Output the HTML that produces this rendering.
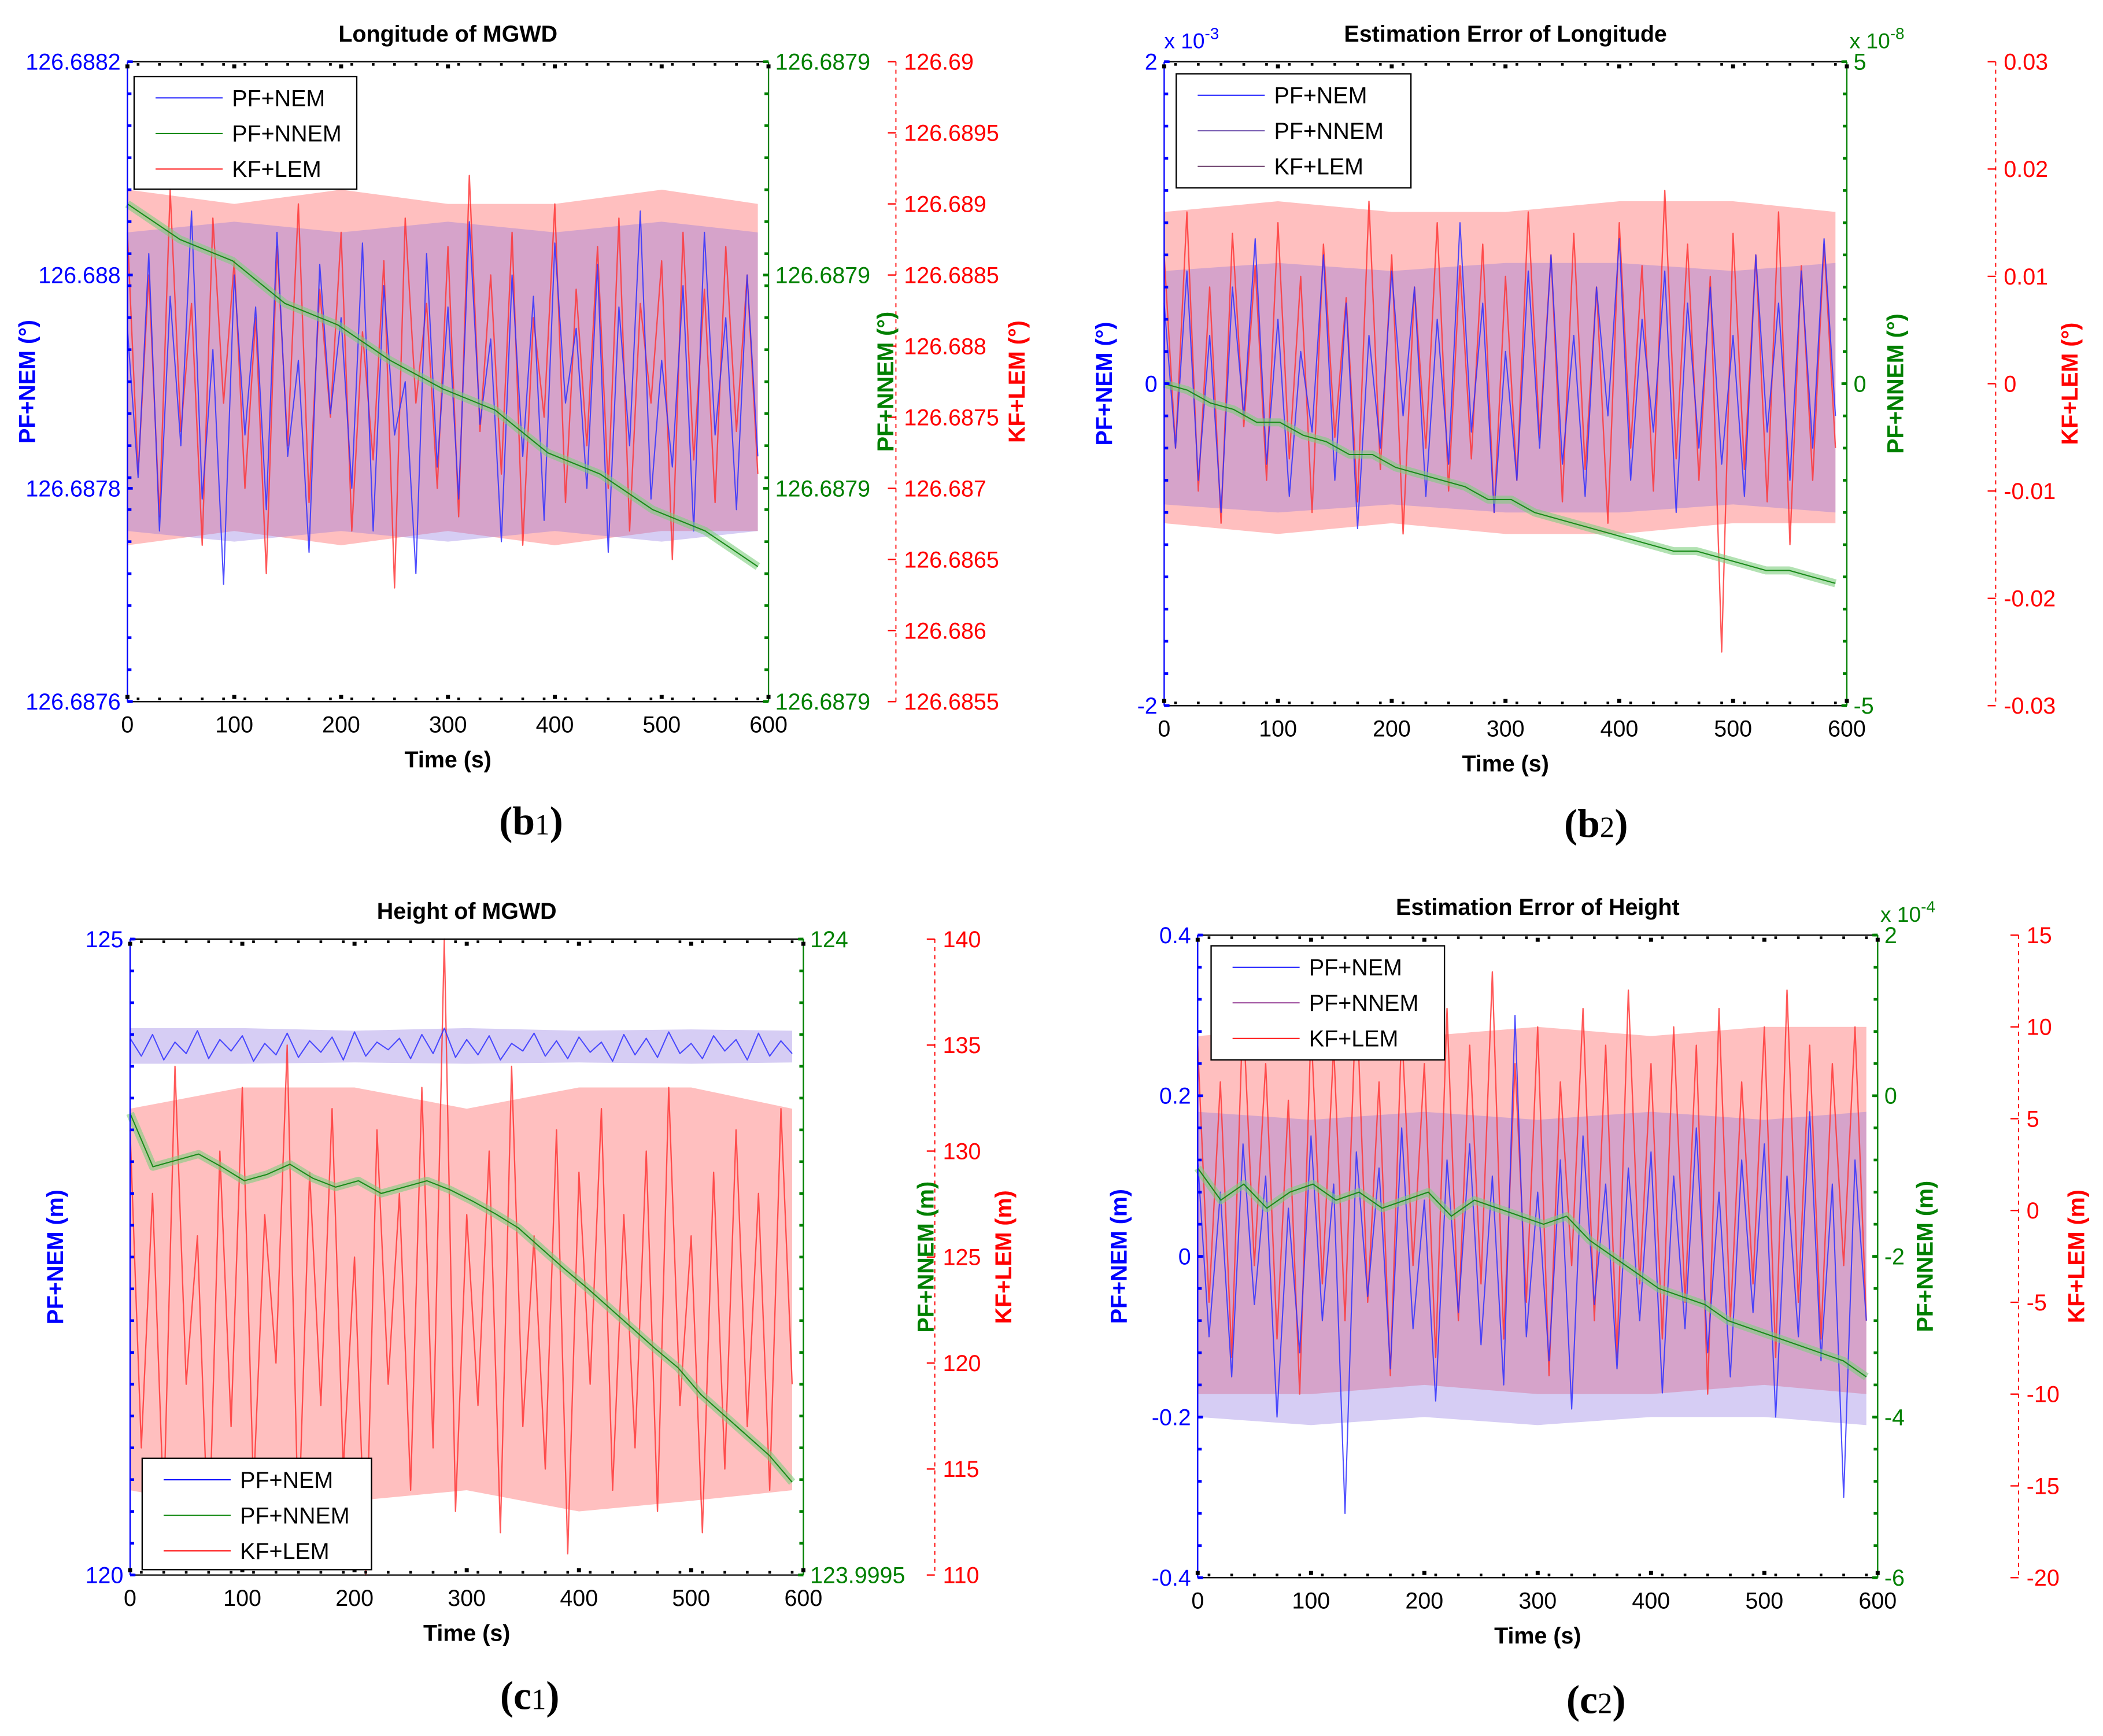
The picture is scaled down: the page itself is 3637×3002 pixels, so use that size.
<!DOCTYPE html>
<html><head><meta charset="utf-8"><style>
html,body{margin:0;padding:0;background:#fff;}
svg{display:block;font-family:"Liberation Sans",Arial,sans-serif;}
</style></head><body>
<svg id="fig" xmlns="http://www.w3.org/2000/svg" width="3637" height="3002" viewBox="0 0 1568 1294" preserveAspectRatio="none"></svg>
<script>
// ===== Data =====
const timeMax = 590;
const bandT = [0,100,200,300,400,500,590];
// (b1) Longitude of MGWD
const b1Nem = [126.68795,126.68781,126.68802,126.68776,126.68798,126.68784,126.68806,126.68779,126.68793,126.68771,126.68800,126.68785,126.68797,126.68778,126.68804,126.68783,126.68792,126.68774,126.68801,126.68787,126.68796,126.68780,126.68803,126.68776,126.68799,126.68785,126.68790,126.68772,126.68802,126.68782,126.68797,126.68779,126.68805,126.68786,126.68794,126.68775,126.68800,126.68783,126.68798,126.68777,126.68803,126.68788,126.68795,126.68780,126.68801,126.68774,126.68797,126.68784,126.68806,126.68779,126.68792,126.68782,126.68799,126.68776,126.68804,126.68785,126.68796,126.68778,126.68800,126.68783];
const b1Lem = [126.6888,126.6871,126.6885,126.6868,126.6891,126.6874,126.6883,126.6866,126.6889,126.6876,126.6886,126.6870,126.6882,126.6864,126.6887,126.6873,126.6890,126.6869,126.6884,126.6875,126.6888,126.6867,126.6881,126.6872,126.6886,126.6863,126.6889,126.6876,126.6883,126.6870,126.6887,126.6868,126.6892,126.6874,126.6885,126.6871,126.6888,126.6866,126.6882,126.6875,126.6890,126.6869,126.6884,126.6873,126.6887,126.6870,126.6889,126.6867,126.6883,126.6876,126.6886,126.6865,126.6888,126.6872,126.6884,126.6869,126.6887,126.6874,126.6885,126.6871];
const b1Nnem = [126.687930,126.687925,126.687922,126.687916,126.687913,126.687908,126.687904,126.687901,126.687895,126.687892,126.687887,126.687884,126.687879];
const b1LemLo = [126.6866,126.6867,126.6866,126.6867,126.6866,126.6867,126.6867];
const b1LemHi = [126.6891,126.6890,126.6891,126.6890,126.6890,126.6891,126.6890];
const b1NemLo = [126.68776,126.68775,126.68776,126.68775,126.68776,126.68775,126.68776];
const b1NemHi = [126.68804,126.68805,126.68804,126.68805,126.68804,126.68805,126.68804];
// (b2) Estimation Error of Longitude
const b2Nem = [0.5,-0.4,0.7,-0.6,0.3,-0.8,0.6,-0.2,0.9,-0.5,0.4,-0.7,0.2,-0.3,0.8,-0.6,0.5,-0.9,0.3,-0.4,0.7,-0.2,0.6,-0.7,0.4,-0.5,1.0,-0.3,0.5,-0.8,0.2,-0.6,0.7,-0.4,0.8,-0.5,0.3,-0.7,0.6,-0.2,0.9,-0.6,0.4,-0.3,0.7,-0.8,0.5,-0.4,0.6,-0.5,0.3,-0.7,0.8,-0.3,0.5,-0.6,0.7,-0.4,0.9,-0.2];
const b2Lem = [0.012,-0.006,0.016,-0.010,0.009,-0.013,0.014,-0.004,0.011,-0.009,0.015,-0.007,0.010,-0.012,0.013,-0.005,0.008,-0.011,0.017,-0.008,0.012,-0.014,0.009,-0.006,0.015,-0.010,0.011,-0.007,0.013,-0.012,0.010,-0.009,0.016,-0.005,0.012,-0.011,0.014,-0.008,0.009,-0.013,0.015,-0.006,0.011,-0.010,0.018,-0.007,0.013,-0.009,0.010,-0.025,0.014,-0.008,0.012,-0.011,0.016,-0.015,0.011,-0.009,0.013,-0.006];
const b2Nnem = [0.0,-0.1,-0.3,-0.4,-0.6,-0.6,-0.8,-0.9,-1.1,-1.1,-1.3,-1.4,-1.5,-1.6,-1.8,-1.8,-2.0,-2.1,-2.2,-2.3,-2.4,-2.5,-2.6,-2.6,-2.7,-2.8,-2.9,-2.9,-3.0,-3.1];
const b2LemLo = [-0.013,-0.014,-0.013,-0.014,-0.014,-0.013,-0.013];
const b2LemHi = [0.016,0.017,0.016,0.016,0.017,0.017,0.016];
const b2NemLo = [-0.75,-0.8,-0.75,-0.8,-0.8,-0.75,-0.8];
const b2NemHi = [0.7,0.75,0.7,0.75,0.75,0.7,0.75];
// (c1) Height of MGWD
const c1Nem = [124.22,124.08,124.25,124.05,124.19,124.10,124.28,124.06,124.21,124.12,124.24,124.04,124.18,124.09,124.26,124.07,124.20,124.11,124.23,124.05,124.27,124.08,124.19,124.13,124.22,124.06,124.25,124.10,124.30,124.07,124.21,124.09,124.24,124.05,124.18,124.12,124.26,124.08,124.20,124.06,124.23,124.11,124.19,124.04,124.25,124.09,124.22,124.07,124.27,124.10,124.18,124.06,124.24,124.12,124.21,124.05,124.26,124.08,124.20,124.10];
const c1Lem = [131,116,128,113,134,119,126,111,130,117,133,114,127,120,135,112,129,118,132,115,125,110,131,119,128,114,133,116,140,113,127,118,130,112,134,117,126,115,131,111,129,119,132,114,127,116,130,113,133,118,126,112,129,115,131,117,128,114,132,119];
const c1Nnem = [123.999863,123.999821,123.999826,123.999831,123.999821,123.999810,123.999815,123.999823,123.999812,123.999805,123.999810,123.999800,123.999805,123.999810,123.999803,123.999794,123.999784,123.999773,123.999757,123.999741,123.999726,123.999710,123.999694,123.999678,123.999663,123.999642,123.999626,123.999610,123.999594,123.999573];
const c1LemLo = [114,113,113.5,114,113,113.5,114];
const c1LemHi = [132,133,133,132,133,133,132];
const c1NemLo = [124.02,124.02,124.03,124.02,124.03,124.02,124.03];
const c1NemHi = [124.3,124.3,124.28,124.3,124.28,124.29,124.28];
// (c2) Estimation Error of Height
const c2Nem = [0.12,-0.10,0.08,-0.15,0.14,-0.06,0.10,-0.20,0.06,-0.12,0.15,-0.08,0.09,-0.32,0.13,-0.05,0.11,-0.14,0.16,-0.09,0.07,-0.18,0.12,-0.07,0.14,-0.11,0.10,-0.16,0.30,-0.10,0.08,-0.13,0.12,-0.19,0.15,-0.06,0.09,-0.14,0.11,-0.08,0.13,-0.17,0.10,-0.09,0.16,-0.12,0.08,-0.15,0.12,-0.07,0.14,-0.20,0.10,-0.10,0.18,-0.13,0.09,-0.30,0.12,-0.08];
const c2Lem = [9,-5,7,-8,11,-3,8,-7,6,-10,10,-4,9,-6,12,-5,7,-9,10,-3,8,-8,11,-6,9,-4,13,-7,8,-5,10,-9,7,-3,11,-6,9,-8,12,-4,8,-7,10,-5,9,-10,11,-6,7,-4,10,-8,12,-5,9,-7,8,-3,10,-6];
const c2Nnem = [-0.9,-1.3,-1.1,-1.4,-1.2,-1.1,-1.3,-1.2,-1.4,-1.3,-1.2,-1.5,-1.3,-1.4,-1.5,-1.6,-1.5,-1.8,-2.0,-2.2,-2.4,-2.5,-2.6,-2.8,-2.9,-3.0,-3.1,-3.2,-3.3,-3.5];
const c2LemLo = [-10,-10,-9.5,-10,-10,-9.5,-10];
const c2LemHi = [9.5,10,9.5,10,9.5,10,10];
const c2NemLo = [-0.2,-0.21,-0.2,-0.21,-0.2,-0.2,-0.21];
const c2NemHi = [0.18,0.17,0.18,0.17,0.18,0.17,0.18];

// tick arrays
const xTicks = [0,100,200,300,400,500,600];
const b1LeftTicks = [126.6876,126.6878,126.688,126.6882];
const b1LeftLabels = ["126.6876","126.6878","126.688","126.6882"];
const b1GreenTicks = [126.68786,126.68789,126.68792,126.68795];
const b1GreenLabels = ["126.6879","126.6879","126.6879","126.6879"];
const b1RedTicks = [126.6855,126.686,126.6865,126.687,126.6875,126.688,126.6885,126.689,126.6895,126.69];
const b1RedLabels = ["126.6855","126.686","126.6865","126.687","126.6875","126.688","126.6885","126.689","126.6895","126.69"];
const b2LeftTicks = [-2,0,2];
const b2GreenTicks = [-5,0,5];
const b2RedTicks = [-0.03,-0.02,-0.01,0,0.01,0.02,0.03];
const c1LeftTicks = [120,125];
const c1GreenTicks = [123.9995,124];
const c1GreenLabels = ["123.9995","124"];
const c1RedTicks = [110,115,120,125,130,135,140];
const c2LeftTicks = [-0.4,-0.2,0,0.2,0.4];
const c2GreenTicks = [-6,-4,-2,0,2];
const c2RedTicks = [-20,-15,-10,-5,0,5,10,15];

// ===== Drawing =====
const NS = "http://www.w3.org/2000/svg";
const svg = document.getElementById("fig");
function mk(tag, attrs, parent){
  const e = document.createElementNS(NS, tag);
  for (const k in attrs) e.setAttribute(k, attrs[k]);
  (parent||svg).appendChild(e);
  return e;
}
function txt(parent, x, y, s, size, fill, anchor, weight, rot){
  const t = mk("text", {x:x, y:y, "font-size":size, fill:fill, "text-anchor":anchor||"middle", "font-weight":weight||"normal"}, parent);
  if (rot) t.setAttribute("transform", "rotate(-90 "+x+" "+y+")");
  t.textContent = s;
  return t;
}
const BLUE="#0000ff", GREEN="#008000", RED="#ff0000";

function panel(id, P, cfg){
  const g = mk("g", {});
  
  
  const xs = t => P.x0 + (t/600)*(P.x1-P.x0);
  const yL = v => P.yB - (v-cfg.left[0])/(cfg.left[1]-cfg.left[0])*(P.yB-P.yT);
  const yG = v => P.yB - (v-cfg.green[0])/(cfg.green[1]-cfg.green[0])*(P.yB-P.yT);
  const yR = v => P.yB - (v-cfg.red[0])/(cfg.red[1]-cfg.red[0])*(P.yB-P.yT);
  const series = (arr, yf, color, w, op, name) => {
    const n = arr.length;
    const d = arr.map((v,i)=> (i?"L":"M")+xs(i*timeMax/(n-1)).toFixed(2)+" "+yf(v).toFixed(2)).join(" ");
    const p = mk("path", {d:d, fill:"none", stroke:color, "stroke-width":w, "stroke-opacity":op, "stroke-linejoin":"round"}, g);
    
    
  };
  const band = (lo, hi, yf, color, op, name) => {
    let d = bandT.map((t,i)=>(i?"L":"M")+xs(t).toFixed(2)+" "+yf(hi[i]).toFixed(2)).join(" ");
    for (let i=bandT.length-1;i>=0;i--) d += " L"+xs(bandT[i]).toFixed(2)+" "+yf(lo[i]).toFixed(2);
    const p = mk("path", {d:d+" Z", fill:color, "fill-opacity":op, stroke:"none"}, g);
    
    
  };
  band(cfg.lemLo, cfg.lemHi, yR, "#ff8a8a", 0.55, id+'-kf-lem-band');
  band(cfg.nemLo, cfg.nemHi, yL, "#8a70e0", 0.35, id+'-pf-nem-band');
  series(cfg.lem, yR, "#ff3030", 1.0, 0.8, id+'-kf-lem-line');
  series(cfg.nem, yL, "#3030ff", 0.9, 0.85, id+'-pf-nem-line');
  series(cfg.nnem, yG, "#7fcf7f", 6, 0.6, id+'-pf-nnem-band');
  series(cfg.nnem, yG, "#1a8a1a", 0.9, 1, id+'-pf-nnem-line');
  // box
  mk("line",{x1:P.x0,y1:P.yT,x2:P.x1,y2:P.yT,stroke:"#000","stroke-width":1},g);
  mk("line",{x1:P.x0,y1:P.yB,x2:P.x1,y2:P.yB,stroke:"#000","stroke-width":1},g);
  mk("line",{x1:P.x0,y1:P.yT,x2:P.x0,y2:P.yB,stroke:BLUE,"stroke-width":1},g);
  mk("line",{x1:P.x1,y1:P.yT,x2:P.x1,y2:P.yB,stroke:GREEN,"stroke-width":1},g);
  mk("line",{x1:P.redX,y1:P.yT,x2:P.redX,y2:P.yB,stroke:RED,"stroke-width":0.8,"stroke-dasharray":"3 3"},g);
  // x ticks
  xTicks.forEach(t=>{
    const x = xs(t);
    mk("rect",{x:x-1.5,y:P.yT+2,width:3,height:3,fill:"#000"},g);
    mk("rect",{x:x-1.5,y:P.yB-5,width:3,height:3,fill:"#000"},g);
    txt(g, x, P.yB+23, String(t), 17, "#000");
  });
  for (let k=0;k<30;k++){ const x=P.x0+(k+0.5)*(P.x1-P.x0)/30; mk("rect",{x:x-1,y:P.yT+1,width:2,height:2,fill:"#000"},g); mk("rect",{x:x-1,y:P.yB-3,width:2,height:2,fill:"#000"},g); }
  cfg.leftTicks.forEach((v,i)=>{
    const y=yL(v);
    mk("rect",{x:P.x0,y:y-1,width:4,height:2,fill:BLUE},g);
    txt(g, P.x0-5, y+6, cfg.leftLabels?cfg.leftLabels[i]:String(v), 17, BLUE, "end");
  });
  for (let k=0;k<=20;k++){ const y=P.yT+k*(P.yB-P.yT)/20; mk("rect",{x:P.x0,y:y-1,width:3,height:2,fill:BLUE},g); }
  cfg.greenTicks.forEach((v,i)=>{
    const y=yG(v);
    mk("rect",{x:P.x1-4,y:y-1,width:4,height:2,fill:GREEN},g);
    txt(g, P.x1+5, y+6, cfg.greenLabels?cfg.greenLabels[i]:String(v), 17, GREEN, "start");
  });
  for (let k=0;k<=20;k++){ const y=P.yT+k*(P.yB-P.yT)/20; mk("rect",{x:P.x1-3,y:y-1,width:3,height:2,fill:GREEN},g); }
  cfg.redTicks.forEach((v,i)=>{
    const y=yR(v);
    mk("line",{x1:P.redX-6,y1:y,x2:P.redX,y2:y,stroke:RED,"stroke-width":1},g);
    txt(g, P.redX+6, y+6, cfg.redLabels?cfg.redLabels[i]:String(v), 17, RED, "start");
  });
  if (cfg.leftExp){ const t=txt(g,P.x0,P.yT-10,"x 10",16,BLUE,"start"); const s=mk("tspan",{dy:-7,"font-size":12},t); s.textContent=cfg.leftExp; }
  if (cfg.greenExp){ const t=txt(g,P.x1+2,P.yT-10,"x 10",16,GREEN,"start"); const s=mk("tspan",{dy:-7,"font-size":12},t); s.textContent=cfg.greenExp; }
  const tt = txt(g, (P.x0+P.x1)/2, P.yT-15, cfg.title, 17, "#000", "middle", "bold");
   
  const xl = txt(g, (P.x0+P.x1)/2, P.yB+49, "Time (s)", 17, "#000", "middle", "bold");
   
  const yc=(P.yT+P.yB)/2;
  const l1=txt(g, cfg.lblX[0], yc, cfg.units[0], 17, BLUE, "middle", "bold", true);
   
  const l2=txt(g, cfg.lblX[1], yc, cfg.units[1], 17, GREEN, "middle", "bold", true);
   
  const l3=txt(g, cfg.lblX[2], yc, cfg.units[2], 17, RED, "middle", "bold", true);
   
  const L=cfg.legend;
  const lg=mk("g",{},g);
  
  
  mk("rect",{x:L.x,y:L.y,width:L.w,height:L.h,fill:"#fff",stroke:"#000","stroke-width":1},lg);
  ["PF+NEM","PF+NNEM","KF+LEM"].forEach((s,i)=>{
    const y=L.y+16+i*26.5;
    mk("line",{x1:L.x+16,y1:y,x2:L.x+66,y2:y,stroke:L.colors[i],"stroke-width":0.8},lg);
    const e=txt(lg, L.x+73, y+6, s, 17, "#000", "start");
    
    
  });
  const cap = mk("text",{x:cfg.cap[0],y:cfg.cap[1],"font-size":30,"font-weight":"bold","text-anchor":"middle","font-family":"'Liberation Serif',serif",fill:"#000"},g);
  
  
  cap.appendChild(document.createTextNode("("+cfg.capLetter));
  const sub = mk("tspan",{"font-size":22,"font-weight":"normal"},cap); sub.textContent=cfg.capNum;
  const cl = mk("tspan",{},cap); cl.textContent=")";
}

panel("b1",{x0:95,x1:573,yT:46,yB:523,redX:668},{
  nem:b1Nem, lem:b1Lem, nnem:b1Nnem, lemLo:b1LemLo, lemHi:b1LemHi, nemLo:b1NemLo, nemHi:b1NemHi,
  left:[126.6876,126.6882], green:[126.68786,126.68795], red:[126.6855,126.69],
  leftTicks:b1LeftTicks, leftLabels:b1LeftLabels, greenTicks:b1GreenTicks, greenLabels:b1GreenLabels, redTicks:b1RedTicks, redLabels:b1RedLabels,
  title:"Longitude of MGWD", units:["PF+NEM (°)","PF+NNEM (°)","KF+LEM (°)"], lblX:[26,666,764],
  legend:{x:100,y:57,w:166,h:84,colors:[BLUE,GREEN,RED]}, cap:[396,622], capLetter:"b", capNum:"1"
});
panel("b2",{x0:868,x1:1377,yT:46,yB:526,redX:1488},{
  nem:b2Nem, lem:b2Lem, nnem:b2Nnem, lemLo:b2LemLo, lemHi:b2LemHi, nemLo:b2NemLo, nemHi:b2NemHi,
  left:[-2,2], green:[-5,5], red:[-0.03,0.03],
  leftTicks:b2LeftTicks, greenTicks:b2GreenTicks, redTicks:b2RedTicks,
  leftExp:"-3", greenExp:"-8",
  title:"Estimation Error of Longitude", units:["PF+NEM (°)","PF+NNEM (°)","KF+LEM (°)"], lblX:[829,1419,1549],
  legend:{x:877,y:55,w:175,h:85,colors:[BLUE,"#5a3aa0","#603060"]}, cap:[1190,624], capLetter:"b", capNum:"2"
});
panel("c1",{x0:97,x1:599,yT:700,yB:1174,redX:697},{
  nem:c1Nem, lem:c1Lem, nnem:c1Nnem, lemLo:c1LemLo, lemHi:c1LemHi, nemLo:c1NemLo, nemHi:c1NemHi,
  left:[120,125], green:[123.9995,124], red:[110,140],
  leftTicks:c1LeftTicks, greenTicks:c1GreenTicks, greenLabels:c1GreenLabels, redTicks:c1RedTicks,
  title:"Height of MGWD", units:["PF+NEM (m)","PF+NNEM (m)","KF+LEM (m)"], lblX:[47,696,754],
  legend:{x:106,y:1087,w:171,h:83,colors:[BLUE,GREEN,RED]}, cap:[395,1274], capLetter:"c", capNum:"1"
});
panel("c2",{x0:893,x1:1400,yT:697,yB:1176,redX:1505},{
  nem:c2Nem, lem:c2Lem, nnem:c2Nnem, lemLo:c2LemLo, lemHi:c2LemHi, nemLo:c2NemLo, nemHi:c2NemHi,
  left:[-0.4,0.4], green:[-6,2], red:[-20,15],
  leftTicks:c2LeftTicks, greenTicks:c2GreenTicks, redTicks:c2RedTicks,
  greenExp:"-4",
  title:"Estimation Error of Height", units:["PF+NEM (m)","PF+NNEM (m)","KF+LEM (m)"], lblX:[840,1441,1554],
  legend:{x:903,y:705,w:174,h:85,colors:[BLUE,"#8a2a8a",RED]}, cap:[1190,1277], capLetter:"c", capNum:"2"
});
</script>
</body></html>
